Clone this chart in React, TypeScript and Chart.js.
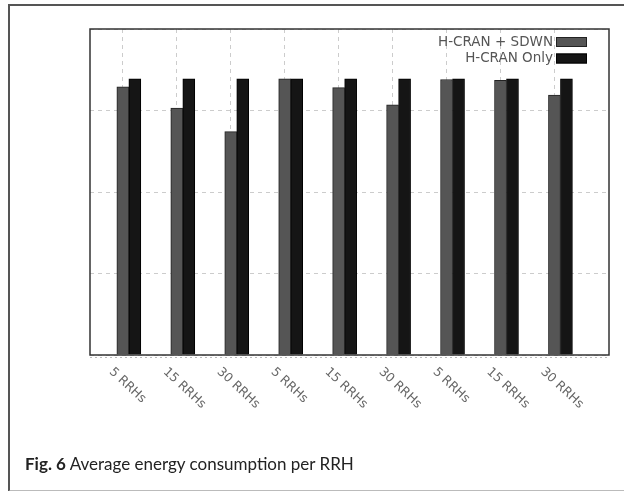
import React, { useEffect, useRef } from "react";
import { Chart, registerables } from "chart.js";

Chart.register(...registerables);

const categories = [
  "5 RRHs", "15 RRHs", "30 RRHs",
  "5 RRHs", "15 RRHs", "30 RRHs",
  "5 RRHs", "15 RRHs", "30 RRHs",
];
const seriesNames = ["H-CRAN + SDWN", "H-CRAN Only"];
const sdwnValues = [3.29, 3.03, 2.74, 3.39, 3.28, 3.07, 3.38, 3.37, 3.19];
const onlyValues = [3.39, 3.39, 3.39, 3.39, 3.39, 3.39, 3.39, 3.39, 3.39];
const yMin = 0;
const yMax = 4;
const yStep = 1;
const captionBold = "Fig. 6";
const captionText = " Average energy consumption per RRH";

const GRID_SHIFT = -0.11;

export default function App() {
  const canvasRef = useRef<HTMLCanvasElement | null>(null);

  useEffect(() => {
    document.body.style.margin = "0";
    const canvas = canvasRef.current;
    if (!canvas) return;

    const framePlugin = {
      id: "frameBox",
      afterDatasetsDraw(chart: any) {
        const { ctx, chartArea } = chart;
        ctx.save();
        ctx.strokeStyle = "#333";
        ctx.lineWidth = 1.5;
        ctx.strokeRect(chartArea.left, chartArea.top, chartArea.right - chartArea.left, chartArea.bottom - chartArea.top);
        ctx.setLineDash([2, 3]);
        ctx.strokeStyle = "#bbb";
        ctx.lineWidth = 1;
        ctx.beginPath();
        ctx.moveTo(chartArea.left, chartArea.bottom + 2.5);
        ctx.lineTo(chartArea.right, chartArea.bottom + 2.5);
        ctx.stroke();
        ctx.restore();
      },
      afterDraw(chart: any) {
        const { ctx, chartArea } = chart;
        const xs = chart.scales.x;
        // rotated tick labels
        ctx.save();
        ctx.font = '12.5px "DejaVu Sans"';
        ctx.fillStyle = "#666";
        ctx.textAlign = "left";
        ctx.textBaseline = "middle";
        categories.forEach((lab, i) => {
          const gx = xs.getPixelForValue(i + GRID_SHIFT);
          ctx.save();
          ctx.translate(gx - 12, chartArea.bottom + 15);
          ctx.rotate((43 * Math.PI) / 180);
          ctx.fillText(lab, 0, 0);
          ctx.restore();
        });
        ctx.restore();
        // legend inside the plot, top-right
        ctx.save();
        ctx.font = '13.5px "DejaVu Sans"';
        ctx.textAlign = "right";
        ctx.textBaseline = "middle";
        const boxW = 31;
        const boxH = 10;
        const boxRight = chartArea.right - 22;
        chart.data.datasets.forEach((ds: any, i: number) => {
          const cy = chartArea.top + 13 + i * 16.5;
          ctx.fillStyle = "#555";
          ctx.fillText(ds.label, boxRight - boxW - 3, cy);
          ctx.fillStyle = ds.backgroundColor;
          ctx.fillRect(boxRight - boxW, cy - boxH / 2, boxW, boxH);
          ctx.strokeStyle = ds.borderColor;
          ctx.lineWidth = 1;
          ctx.strokeRect(boxRight - boxW + 0.5, cy - boxH / 2 + 0.5, boxW - 1, boxH - 1);
        });
        ctx.restore();
      },
    };

    const chart = new Chart(canvas, {
      type: "bar",
      data: {
        datasets: [
          {
            label: seriesNames[0],
            data: sdwnValues.map((v, i) => ({ x: i, y: v })),
            backgroundColor: "#555555",
            borderColor: "#222222",
            borderWidth: 1,
            barThickness: 12,
          },
          {
            label: seriesNames[1],
            data: onlyValues.map((v, i) => ({ x: i, y: v })),
            backgroundColor: "#151515",
            borderColor: "#000000",
            borderWidth: 1,
            barThickness: 12,
          },
        ],
      },
      options: {
        animation: false,
        responsive: false,
        maintainAspectRatio: false,
        layout: { padding: { left: 90, top: 29, right: 15, bottom: 136 } },
        plugins: {
          legend: { display: false },
          tooltip: { enabled: false },
          title: { display: false },
        },
        scales: {
          x: {
            type: "linear",
            min: -0.72,
            max: 8.9,
            offset: false,
            afterBuildTicks: (scale: any) => {
              scale.ticks = categories.map((_, i) => ({ value: i + GRID_SHIFT }));
            },
            ticks: { display: false },
            grid: { color: "#cccccc", lineWidth: 1, drawTicks: false, offset: false },
            border: { display: false, dash: [4, 4] },
          },
          y: {
            min: yMin,
            max: yMax,
            ticks: { display: false, stepSize: yStep },
            grid: { color: "#cccccc", lineWidth: 1, drawTicks: false },
            border: { display: false, dash: [4, 4] },
          },
        },
      },
      plugins: [framePlugin],
    } as any);

    return () => chart.destroy();
  }, []);

  return (
    <div style={{ position: "relative", width: 624, height: 491, overflow: "hidden", background: "#fff" }}>
      <div
        style={{
          position: "absolute",
          left: 8,
          top: 4,
          width: 660,
          height: 484,
          borderTop: "2px solid #555",
          borderLeft: "2px solid #555",
          borderBottom: "2px solid #bbb",
          boxSizing: "content-box",
        }}
      />
      <canvas ref={canvasRef} width={624} height={491} style={{ position: "absolute", left: 0, top: 0, width: 624, height: 491 }} />
      <div
        style={{
          position: "absolute",
          left: 25,
          top: 454,
          fontFamily: "Lato, 'Open Sans', sans-serif",
          fontSize: 17,
          lineHeight: "20px",
          color: "#222",
          whiteSpace: "nowrap",
        }}
      >
        <b>{captionBold}</b>
        {captionText}
      </div>
    </div>
  );
}
